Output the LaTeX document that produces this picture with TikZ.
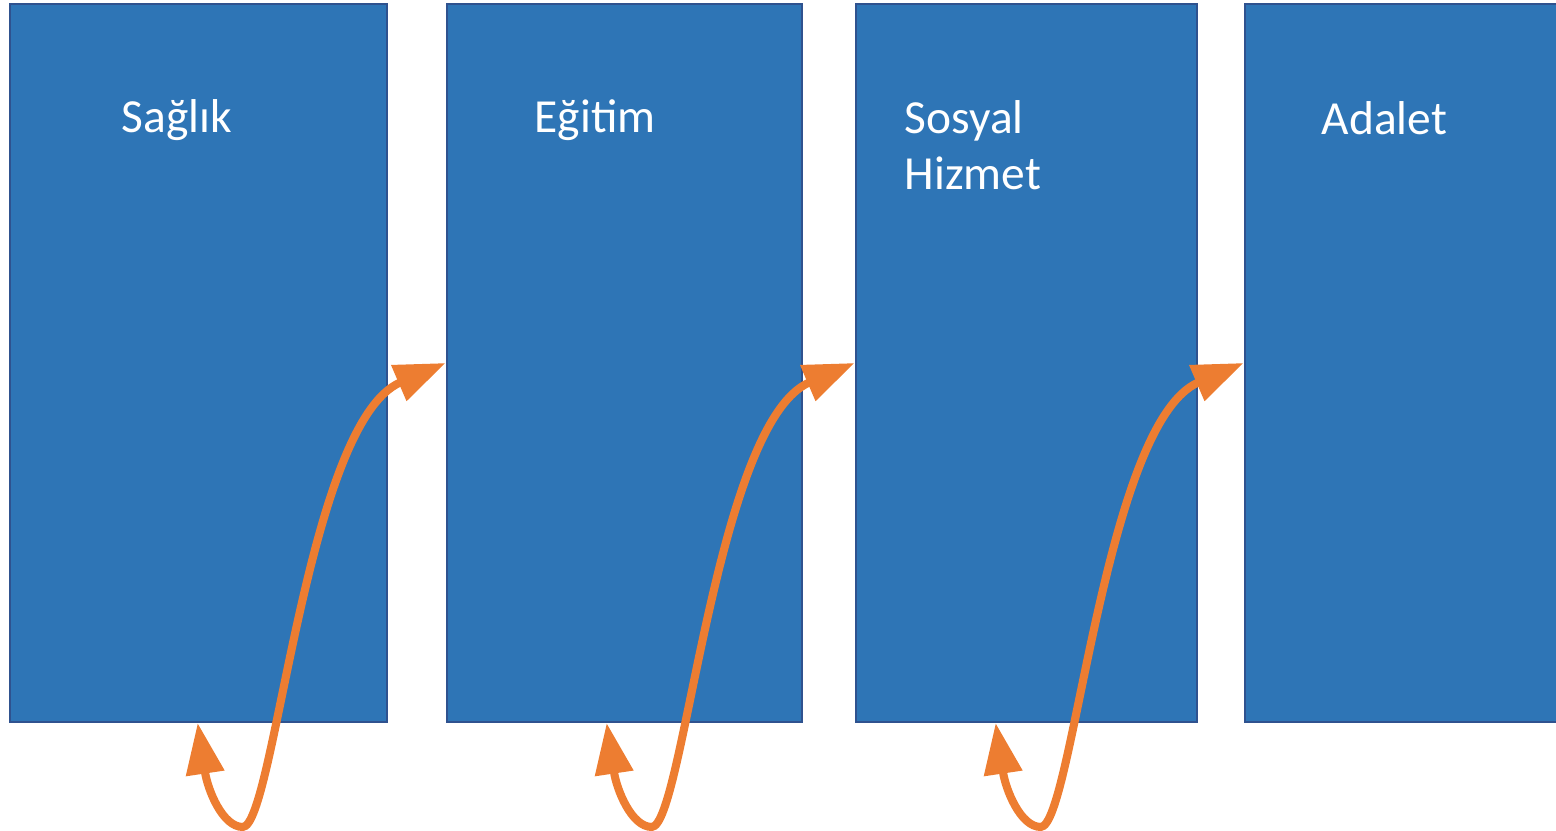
\documentclass[tikz,border=0pt]{standalone}
\usepackage{fontspec}
\setmainfont{Carlito}
\usepackage{tikz}
\usetikzlibrary{calc,arrows.meta,positioning}
\definecolor{fillb}{HTML}{2E75B6}
\definecolor{edgeb}{HTML}{2F528F}
\definecolor{orng}{HTML}{ED7D31}
\tikzset{
  box/.style={draw=edgeb, fill=fillb, line width=0.7pt, minimum height=7.18cm, inner sep=0pt},
  flow/.style={draw=orng, line width=2.3pt, {Triangle[length=5.1mm, width=3.7mm]}-{Triangle[length=5.1mm, width=3.7mm]}},
  lab/.style={text=white, font=\fontsize{13.5}{16.2}\selectfont, inner sep=0pt, anchor=base west, align=left},
}

\begin{document}
\begin{tikzpicture}[x=0.01cm, y=0.01cm]
\useasboundingbox (0,0) rectangle (1556,831);
\node[box, minimum width=3.77cm] (r1) at (198.5,468) {};
\node[box, minimum width=3.55cm] (r2) at (624.5,468) {};
\node[box, minimum width=3.41cm] (r3) at (1026.5,468) {};
\node[box, minimum width=3.40cm] (r4) at (1415,468) {};
\node[lab] (t1) at (121,698) {Sağlık};
\node[lab] (t2) at (534,698) {Eğitim};
\node[lab] (t3) at (904,641) {Sosyal\\Hizmet};
\node[lab] (t4) at (1321,696) {Adalet};
\coordinate (s1) at ($(r2.west)+(-248,-360)$);
\coordinate (s2) at ($(r3.west)+(-248,-360)$);
\coordinate (s3) at ($(r4.west)+(-248,-360)$);
\draw[flow] (s1) .. controls +(10,-67) and +(-20,0) .. ++(45,-104) .. controls +(32,0) and +(-140,-60) .. (r2.west);
\draw[flow] (s2) .. controls +(10,-67) and +(-20,0) .. ++(45,-104) .. controls +(32,0) and +(-140,-60) .. (r3.west);
\draw[flow] (s3) .. controls +(10,-67) and +(-20,0) .. ++(45,-104) .. controls +(32,0) and +(-140,-60) .. (r4.west);
\end{tikzpicture}
\end{document}
